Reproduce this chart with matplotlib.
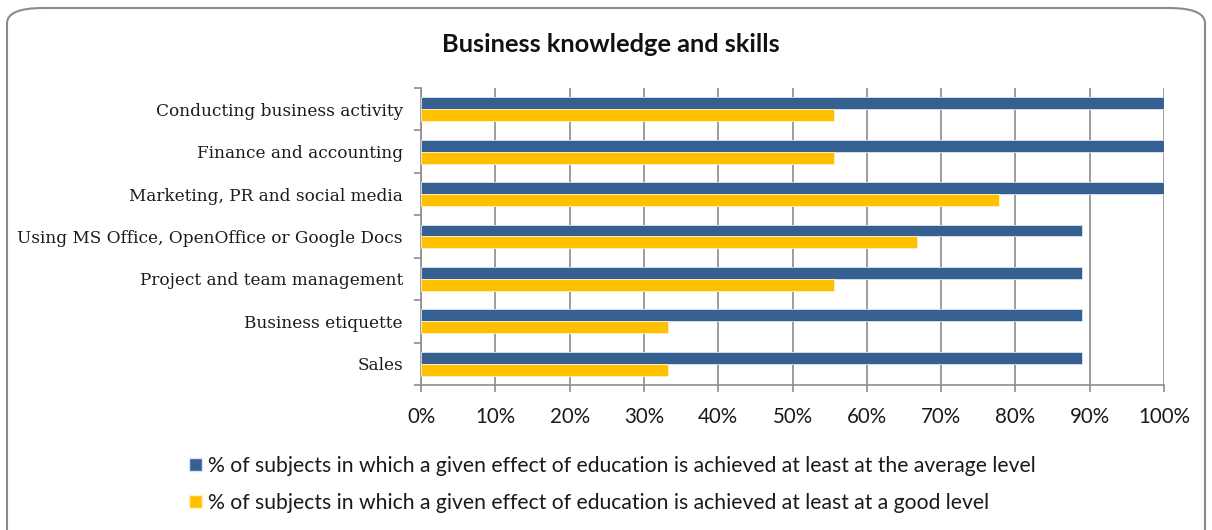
import matplotlib.pyplot as plt
from matplotlib.patches import FancyBboxPatch, Patch
from matplotlib.ticker import MultipleLocator, PercentFormatter

categories = [
    "Conducting business activity",
    "Finance and accounting",
    "Marketing, PR and social media",
    "Using MS Office, OpenOffice or Google Docs",
    "Project and team management",
    "Business etiquette",
    "Sales",
]
average_level = [100, 100, 100, 88.9, 88.9, 88.9, 88.9]
good_level = [55.6, 55.6, 77.8, 66.7, 55.6, 33.3, 33.3]
legend_labels = [
    "% of subjects in which a given effect of education is achieved at least at the average level",
    "% of subjects in which a given effect of education is achieved at least at a good level",
]

blue = "#376092"
yellow = "#FFC000"
grid_gray = "#8c8c8c"
sans = ["Lato", "DejaVu Sans"]
serif = ["DejaVu Serif"]

fig = plt.figure(figsize=(12.12, 5.30), dpi=100)

# rounded frame around the whole chart
frame = FancyBboxPatch((7 / 1212, -0.05), 1198 / 1212, 1 - 8 / 530 + 0.05,
                       boxstyle="round,pad=0,rounding_size=0.03",
                       transform=fig.transFigure, fill=False,
                       edgecolor="#8a8a8a", linewidth=1.5, mutation_aspect=530 / 1212 * 2.2)
fig.patches.append(frame)

ax = fig.add_axes([421 / 1212, 1 - 385 / 530, 743 / 1212, 297 / 530])

pos = list(range(len(categories)))
h = 0.28
ax.barh([p - h / 2 for p in pos], average_level, height=h, color=blue,
        edgecolor="#dce4ef", linewidth=0.6, zorder=3)
ax.barh([p + h / 2 for p in pos], good_level, height=h, color=yellow,
        edgecolor="#fff2c8", linewidth=0.6, zorder=3)

ax.set_xlim(0, 100)
ax.set_ylim(len(categories) - 0.5, -0.5)

ax.xaxis.set_major_locator(MultipleLocator(10))
ax.xaxis.set_major_formatter(PercentFormatter(decimals=0))
ax.grid(axis="x", color=grid_gray, linewidth=1.2, zorder=0)

ax.set_yticks(pos)
ax.set_yticklabels(categories, fontfamily=serif, fontsize=12.2, color="#1a1a1a")
ax.set_yticks([p - 0.5 for p in pos] + [len(pos) - 0.5], minor=True)
ax.tick_params(axis="y", which="major", length=0, pad=13)
ax.tick_params(axis="y", which="minor", length=5, color=grid_gray, width=1.2)
ax.tick_params(axis="x", length=5, color=grid_gray, width=1.2, pad=11,
               labelsize=14.8, labelcolor="#1a1a1a")
for lab in ax.get_xticklabels():
    lab.set_fontfamily(sans)

for side in ["top", "right"]:
    ax.spines[side].set_visible(False)
for side in ["left", "bottom"]:
    ax.spines[side].set_color(grid_gray)
    ax.spines[side].set_linewidth(1.2)

fig.text(611 / 1212, 1 - 45 / 530, "Business knowledge and skills",
         ha="center", va="center", fontsize=18.3, fontweight="bold",
         fontfamily=sans, color="#111111")

handles = [Patch(facecolor=blue, edgecolor="#dce4ef"),
           Patch(facecolor=yellow, edgecolor="#fff2c8")]
fig.legend(handles, legend_labels, loc="upper left",
           bbox_to_anchor=(189 / 1212, 1 - 456 / 530), frameon=False,
           prop={"family": sans, "size": 15.2}, handlelength=0.6,
           handleheight=0.6, handletextpad=0.3, labelspacing=0.8,
           borderaxespad=0, borderpad=0, labelcolor="#1a1a1a")

fig.savefig("out.png", dpi=100)
